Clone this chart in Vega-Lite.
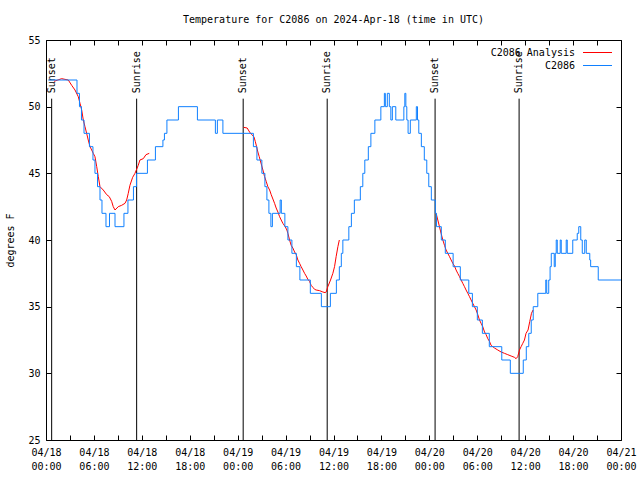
{
  "$schema": "https://vega.github.io/schema/vega-lite/v6.json",
  "width": 575,
  "height": 400,
  "autosize": {"type": "none"},
  "padding": {"left": 46, "top": 40, "right": 19, "bottom": 40},
  "background": "white",
  "title": {"text": "Temperature for C2086 on 2024-Apr-18 (time in UTC)", "font": "DejaVu Sans Mono", "fontSize": 10, "fontWeight": "normal", "offset": 10, "color": "black"},
  "config": {
    "view": {"stroke": "black", "strokeWidth": 1},
    "axis": {"labelFont": "DejaVu Sans Mono", "labelFontSize": 10, "labelColor": "black", "titleFont": "DejaVu Sans Mono", "titleFontSize": 10, "titleFontWeight": "normal", "titleColor": "black", "grid": false, "domain": false, "tickColor": "black", "tickSize": 5, "offset": -5, "labelOverlap": false, "labelFlush": false, "labelBound": false}
  },
  "datasets": {
    "sun": [
      {"t": 0.71, "e": "Sunset"}, {"t": 11.35, "e": "Sunrise"}, {"t": 24.69, "e": "Sunset"},
      {"t": 35.21, "e": "Sunrise"}, {"t": 48.72, "e": "Sunset"}, {"t": 59.24, "e": "Sunrise"}
    ],
    "obs": [
      {"t":0.29,"v":52},{"t":3.88,"v":51},{"t":4.19,"v":50},{"t":4.44,"v":49},{"t":4.76,"v":48},{"t":5.44,"v":47},{"t":5.88,"v":46},{"t":6.13,"v":45},{"t":6.45,"v":44},{"t":6.76,"v":43},{"t":7.01,"v":42},{"t":7.51,"v":41},{"t":7.95,"v":42},{"t":8.64,"v":41},{"t":9.76,"v":42},{"t":10.26,"v":43},{"t":10.95,"v":44},{"t":11.33,"v":45},{"t":12.7,"v":46},{"t":13.7,"v":47},{"t":14.64,"v":47.5},{"t":14.83,"v":48},{"t":15.14,"v":49},{"t":16.58,"v":50},{"t":18.96,"v":49},{"t":21.21,"v":48},{"t":21.46,"v":49},{"t":22.15,"v":48},
      {"t":25.97,"v":47},{"t":26.41,"v":46},{"t":27.03,"v":45},{"t":27.41,"v":44},{"t":27.66,"v":43},{"t":27.91,"v":42},{"t":28.16,"v":41},{"t":28.35,"v":42},{"t":29.32,"v":43},{"t":29.47,"v":42},{"t":29.91,"v":41},{"t":30.29,"v":40},{"t":30.79,"v":39},{"t":31.35,"v":38},{"t":31.79,"v":37},{"t":33.1,"v":36},{"t":34.48,"v":35},{"t":35.61,"v":36},{"t":36.36,"v":37},{"t":36.73,"v":38},{"t":36.98,"v":39},{"t":37.17,"v":40},{"t":37.92,"v":41},{"t":38.24,"v":42},{"t":38.61,"v":43},{"t":39.36,"v":44},{"t":39.67,"v":45},{"t":39.92,"v":46},{"t":40.36,"v":47},{"t":40.68,"v":48},{"t":41.18,"v":49},{"t":41.93,"v":50},{"t":42.37,"v":51},{"t":42.49,"v":50},{"t":42.74,"v":51},{"t":42.99,"v":50},{"t":43.18,"v":49},{"t":43.37,"v":50},{"t":43.8,"v":49},{"t":44.81,"v":50},{"t":44.93,"v":51},{"t":45.06,"v":50},{"t":45.18,"v":49},{"t":45.34,"v":48},{"t":45.62,"v":49},{"t":46.37,"v":50},{"t":46.52,"v":49},{"t":46.68,"v":48},{"t":47.0,"v":47},{"t":47.37,"v":46},{"t":47.68,"v":45},{"t":47.93,"v":44},{"t":48.25,"v":43},{"t":48.75,"v":42},{"t":48.9,"v":41},{"t":49.5,"v":40},{"t":50.0,"v":39},{"t":50.98,"v":38},{"t":51.88,"v":37},{"t":52.94,"v":36},{"t":53.39,"v":35},{"t":54.01,"v":34},{"t":54.64,"v":33},{"t":55.51,"v":32},{"t":57.07,"v":31},{"t":58.14,"v":30},{"t":59.76,"v":31},{"t":60.14,"v":32},{"t":60.45,"v":33},{"t":60.76,"v":34},{"t":61.01,"v":35},{"t":61.58,"v":36},{"t":62.58,"v":37},{"t":62.7,"v":36},{"t":62.95,"v":37},{"t":63.12,"v":38},{"t":63.27,"v":39},{"t":63.64,"v":38},{"t":63.77,"v":39},{"t":63.89,"v":40},{"t":64.02,"v":39},{"t":64.39,"v":40},{"t":64.52,"v":39},{"t":65.14,"v":40},{"t":65.27,"v":39},{"t":65.96,"v":40},{"t":66.52,"v":40.5},{"t":66.71,"v":41},{"t":66.96,"v":40},{"t":67.15,"v":39},{"t":67.46,"v":40},{"t":67.65,"v":39},{"t":68.09,"v":38.5},{"t":68.2,"v":38},{"t":69.15,"v":37},{"t":72,"v":37}
    ],
    "ana": [
      {"g":1,"t":1.0,"v":51.9},{"g":1,"t":1.96,"v":52.1},{"g":1,"t":2.79,"v":52},{"g":1,"t":3.22,"v":51.6},{"g":1,"t":3.63,"v":51.25},{"g":1,"t":4.04,"v":50.75},{"g":1,"t":4.26,"v":50.25},{"g":1,"t":4.47,"v":49.75},{"g":1,"t":4.67,"v":49},{"g":1,"t":4.88,"v":48.5},{"g":1,"t":5.09,"v":48},{"g":1,"t":5.29,"v":47.5},{"g":1,"t":5.51,"v":47},{"g":1,"t":5.72,"v":46.75},{"g":1,"t":5.92,"v":46.5},{"g":1,"t":6.13,"v":46.25},{"g":1,"t":6.35,"v":45.5},{"g":1,"t":6.55,"v":44.75},{"g":1,"t":6.76,"v":44},{"g":1,"t":7.17,"v":43.75},{"g":1,"t":7.6,"v":43.4},{"g":1,"t":7.92,"v":43.25},{"g":1,"t":8.22,"v":42.9},{"g":1,"t":8.42,"v":42.5},{"g":1,"t":8.64,"v":42.25},{"g":1,"t":9.05,"v":42.5},{"g":1,"t":9.47,"v":42.6},{"g":1,"t":9.89,"v":42.75},{"g":1,"t":10.1,"v":43},{"g":1,"t":10.3,"v":43.5},{"g":1,"t":10.51,"v":44.1},{"g":1,"t":10.85,"v":44.7},{"g":1,"t":11.14,"v":45},{"g":1,"t":11.55,"v":45.6},{"g":1,"t":11.76,"v":46},{"g":1,"t":12.18,"v":46.1},{"g":1,"t":12.52,"v":46.4},{"g":1,"t":12.93,"v":46.5},
      {"g":2,"t":24.74,"v":48.45},{"g":2,"t":25.19,"v":48.4},{"g":2,"t":25.49,"v":48.1},{"g":2,"t":25.69,"v":47.95},{"g":2,"t":26.03,"v":47.75},{"g":2,"t":26.2,"v":47.4},{"g":2,"t":26.37,"v":47},{"g":2,"t":26.53,"v":46.6},{"g":2,"t":26.7,"v":46.25},{"g":2,"t":27.16,"v":45.25},{"g":2,"t":27.37,"v":44.75},{"g":2,"t":27.57,"v":44.4},{"g":2,"t":27.78,"v":44},{"g":2,"t":28.0,"v":43.75},{"g":2,"t":28.2,"v":43.4},{"g":2,"t":28.62,"v":42.75},{"g":2,"t":28.82,"v":42.4},{"g":2,"t":29.04,"v":42.1},{"g":2,"t":29.25,"v":41.75},{"g":2,"t":29.45,"v":41.5},{"g":2,"t":29.66,"v":41.25},{"g":2,"t":29.95,"v":41},{"g":2,"t":30.16,"v":40.75},{"g":2,"t":30.29,"v":40.5},{"g":2,"t":30.5,"v":40},{"g":2,"t":30.7,"v":39.6},{"g":2,"t":30.91,"v":39.4},{"g":2,"t":31.13,"v":39.1},{"g":2,"t":31.33,"v":38.9},{"g":2,"t":31.54,"v":38.5},{"g":2,"t":31.75,"v":38.25},{"g":2,"t":31.95,"v":38},{"g":2,"t":32.17,"v":37.75},{"g":2,"t":32.38,"v":37.5},{"g":2,"t":32.58,"v":37.3},{"g":2,"t":32.79,"v":37.05},{"g":2,"t":33.0,"v":36.9},{"g":2,"t":33.2,"v":36.6},{"g":2,"t":33.42,"v":36.45},{"g":2,"t":33.63,"v":36.3},{"g":2,"t":33.83,"v":36.25},{"g":2,"t":34.26,"v":36.2},{"g":2,"t":34.67,"v":36.1},{"g":2,"t":34.96,"v":36.05},{"g":2,"t":35.08,"v":36.1},{"g":2,"t":35.29,"v":36.5},{"g":2,"t":35.63,"v":37},{"g":2,"t":35.92,"v":37.5},{"g":2,"t":36.13,"v":38},{"g":2,"t":36.33,"v":38.75},{"g":2,"t":36.55,"v":39.5},{"g":2,"t":36.73,"v":40},
      {"g":3,"t":48.85,"v":42},{"g":3,"t":49.06,"v":41.5},{"g":3,"t":49.27,"v":41},{"g":3,"t":49.47,"v":40.5},{"g":3,"t":49.69,"v":40},{"g":3,"t":49.9,"v":39.6},{"g":3,"t":50.1,"v":39.25},{"g":3,"t":50.31,"v":39},{"g":3,"t":50.53,"v":38.75},{"g":3,"t":50.73,"v":38.5},{"g":3,"t":50.94,"v":38.25},{"g":3,"t":51.15,"v":38.05},{"g":3,"t":51.35,"v":37.75},{"g":3,"t":51.56,"v":37.5},{"g":3,"t":51.78,"v":37.25},{"g":3,"t":51.98,"v":37},{"g":3,"t":52.19,"v":36.75},{"g":3,"t":52.4,"v":36.5},{"g":3,"t":52.6,"v":36.25},{"g":3,"t":52.82,"v":36},{"g":3,"t":53.03,"v":35.75},{"g":3,"t":53.23,"v":35.5},{"g":3,"t":53.44,"v":35.25},{"g":3,"t":53.65,"v":35},{"g":3,"t":53.86,"v":34.75},{"g":3,"t":54.07,"v":34.4},{"g":3,"t":54.28,"v":34},{"g":3,"t":54.48,"v":33.75},{"g":3,"t":54.69,"v":33.5},{"g":3,"t":54.91,"v":33.1},{"g":3,"t":55.11,"v":32.9},{"g":3,"t":55.32,"v":32.6},{"g":3,"t":55.53,"v":32.4},{"g":3,"t":55.73,"v":32.1},{"g":3,"t":56.16,"v":31.9},{"g":3,"t":56.57,"v":31.75},{"g":3,"t":56.99,"v":31.6},{"g":3,"t":57.41,"v":31.5},{"g":3,"t":57.82,"v":31.4},{"g":3,"t":58.24,"v":31.3},{"g":3,"t":58.66,"v":31.2},{"g":3,"t":58.86,"v":31.1},{"g":3,"t":59.07,"v":31.25},{"g":3,"t":59.29,"v":31.75},{"g":3,"t":59.49,"v":32},{"g":3,"t":59.7,"v":32.25},{"g":3,"t":59.91,"v":32.5},{"g":3,"t":60.11,"v":33},{"g":3,"t":60.36,"v":33.25},{"g":3,"t":60.58,"v":33.9},{"g":3,"t":60.79,"v":34.5},{"g":3,"t":60.99,"v":34.75}
    ]
  },
  "resolve": {"axis": {"x": "independent", "y": "independent"}},
  "layer": [
    {
      "data": {"name": "sun"},
      "mark": {"type": "rule", "color": "black", "strokeWidth": 1},
      "encoding": {
        "x": {"field": "t", "type": "quantitative", "scale": {"domain": [0, 72], "nice": false, "zero": false}, "axis": null},
        "y": {"datum": 50.6, "type": "quantitative", "scale": {"domain": [25, 55], "nice": false, "zero": false}, "axis": null},
        "y2": {"datum": 25}
      }
    },
    {
      "data": {"name": "sun"},
      "mark": {"type": "text", "angle": 270, "align": "left", "baseline": "middle", "font": "DejaVu Sans Mono", "fontSize": 10, "color": "black"},
      "encoding": {
        "x": {"field": "t", "type": "quantitative", "axis": null},
        "y": {"datum": 51.0, "type": "quantitative", "axis": null},
        "text": {"field": "e"}
      }
    },
    {
      "data": {"name": "ana"},
      "mark": {"type": "line", "strokeWidth": 1},
      "encoding": {
        "x": {"field": "t", "type": "quantitative", "scale": {"domain": [0, 72], "nice": false, "zero": false},
              "axis": {"orient": "top", "labels": false, "title": null, "values": [0,3,6,9,12,15,18,21,24,27,30,33,36,39,42,45,48,51,54,57,60,63,66,69,72]}},
        "y": {"field": "v", "type": "quantitative", "scale": {"domain": [25, 55], "nice": false, "zero": false},
              "axis": {"orient": "right", "labels": false, "title": null, "values": [25,30,35,40,45,50,55]}},
        "detail": {"field": "g"},
        "color": {"datum": "C2086 Analysis", "scale": {"domain": ["C2086 Analysis", "C2086"], "range": ["#ff0000", "#1080ff"]},
                  "legend": {"title": null, "orient": "top-right", "offset": 7, "padding": 0, "symbolType": "M-2.9,0H2.9", "symbolSize": 100, "symbolStrokeWidth": 1, "labelFont": "DejaVu Sans Mono", "labelFontSize": 10, "labelColor": "black", "rowPadding": 2,
                             "encode": {"labels": {"update": {"x": {"value": -17}, "align": {"value": "right"}}}}}}
      }
    },
    {
      "data": {"name": "obs"},
      "mark": {"type": "line", "strokeWidth": 1, "interpolate": "step-after"},
      "encoding": {
        "x": {"field": "t", "type": "quantitative",
              "axis": {"orient": "bottom", "title": null, "values": [0,3,6,9,12,15,18,21,24,27,30,33,36,39,42,45,48,51,54,57,60,63,66,69,72], "labelPadding": 7, "labelBaseline": "top", "labelLineHeight": 14,
                       "labelExpr": "datum.value % 6 == 0 ? ['04/' + (18 + floor(datum.value / 24)), (datum.value % 24 < 10 ? '0' : '') + (datum.value % 24) + ':00'] : ''"}},
        "y": {"field": "v", "type": "quantitative",
              "axis": {"orient": "left", "title": "degrees F", "values": [25,30,35,40,45,50,55], "labelPadding": 6, "titlePadding": 12}},
        "color": {"datum": "C2086"}
      }
    }
  ]
}
